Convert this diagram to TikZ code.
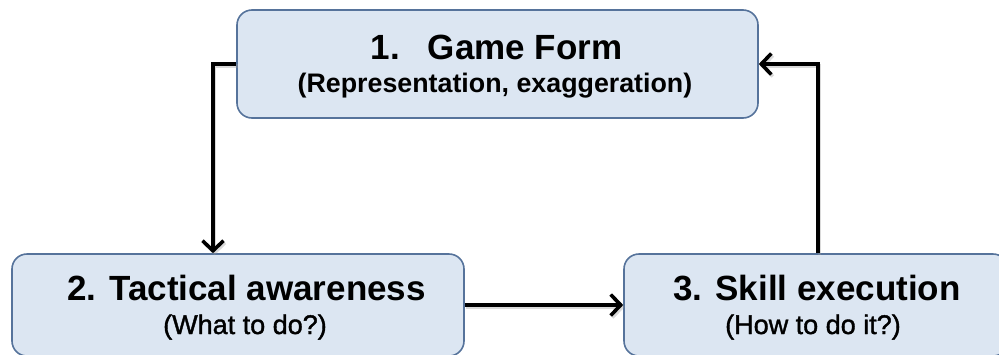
\documentclass[tikz,border=0pt]{standalone}
\usepackage{fontspec}
\setmainfont{Liberation Sans}
\newfontfamily\subfont{Liberation Sans}[FakeBold=1.4]
\usetikzlibrary{arrows.meta}

\definecolor{boxfill}{RGB}{220,230,242}
\definecolor{boxline}{RGB}{86,115,155}
\definecolor{flowshade}{RGB}{150,150,150}

\tikzset{
  stage/.style={draw=boxline, fill=boxfill, line width=1.6pt,
    rounded corners=15pt, inner sep=0pt},
  ttl/.style={anchor=base, inner sep=0pt,
    font=\fontsize{35}{37}\selectfont\bfseries},
  sub/.style={anchor=base, inner sep=0pt,
    font=\subfont\fontsize{27}{30}\selectfont},
  flowtip/.style={-{Straight Barb[length=10pt,width=21pt,line width=3.6pt]}},
  flow/.style={line width=3.8pt, black, flowtip,
    preaction={draw=flowshade, opacity=0.35, line width=3.8pt, flowtip,
      transform canvas={shift={(1.5pt,-2pt)}}}},
}

\begin{document}
\begin{tikzpicture}[x=1pt, y=-1pt]
  \useasboundingbox (0,0) rectangle (999,354);

  % the three stages of the cycle
  \node[stage, minimum width=521pt, minimum height=108pt] (g1) at (497.5,64) {};
  \node[stage, minimum width=452pt, minimum height=102pt] (g2) at (238,305) {};
  \node[stage, minimum width=384pt, minimum height=102pt] (g3) at (816,305) {};

  % stage captions
  \node[ttl] (t1) at (496.5,59) {1.\hspace{28pt}Game Form};
  \node[sub, font=\fontsize{26.8}{30}\selectfont\bfseries] (s1) at (495,92)
        {(Representation, exaggeration)};
  \node[ttl] (t2) at (246.5,300) {2. Tactical awareness};
  \node[sub] (s2) at (245,334)   {(What to do?)};
  \node[ttl] (t3) at (817,300)   {3. Skill execution};
  \node[sub] (s3) at (813,334)   {(How to do it?)};

  % routing columns of the side connectors
  \coordinate (lc) at (213,0);
  \coordinate (rc) at (818,0);

  % connectors
  \draw[flow] (g1.west) -| (lc |- g2.north);
  \draw[flow] (g2.east) -- (g3.west);
  \draw[flow] (rc |- g3.north) |- (g1.east);
\end{tikzpicture}
\end{document}
